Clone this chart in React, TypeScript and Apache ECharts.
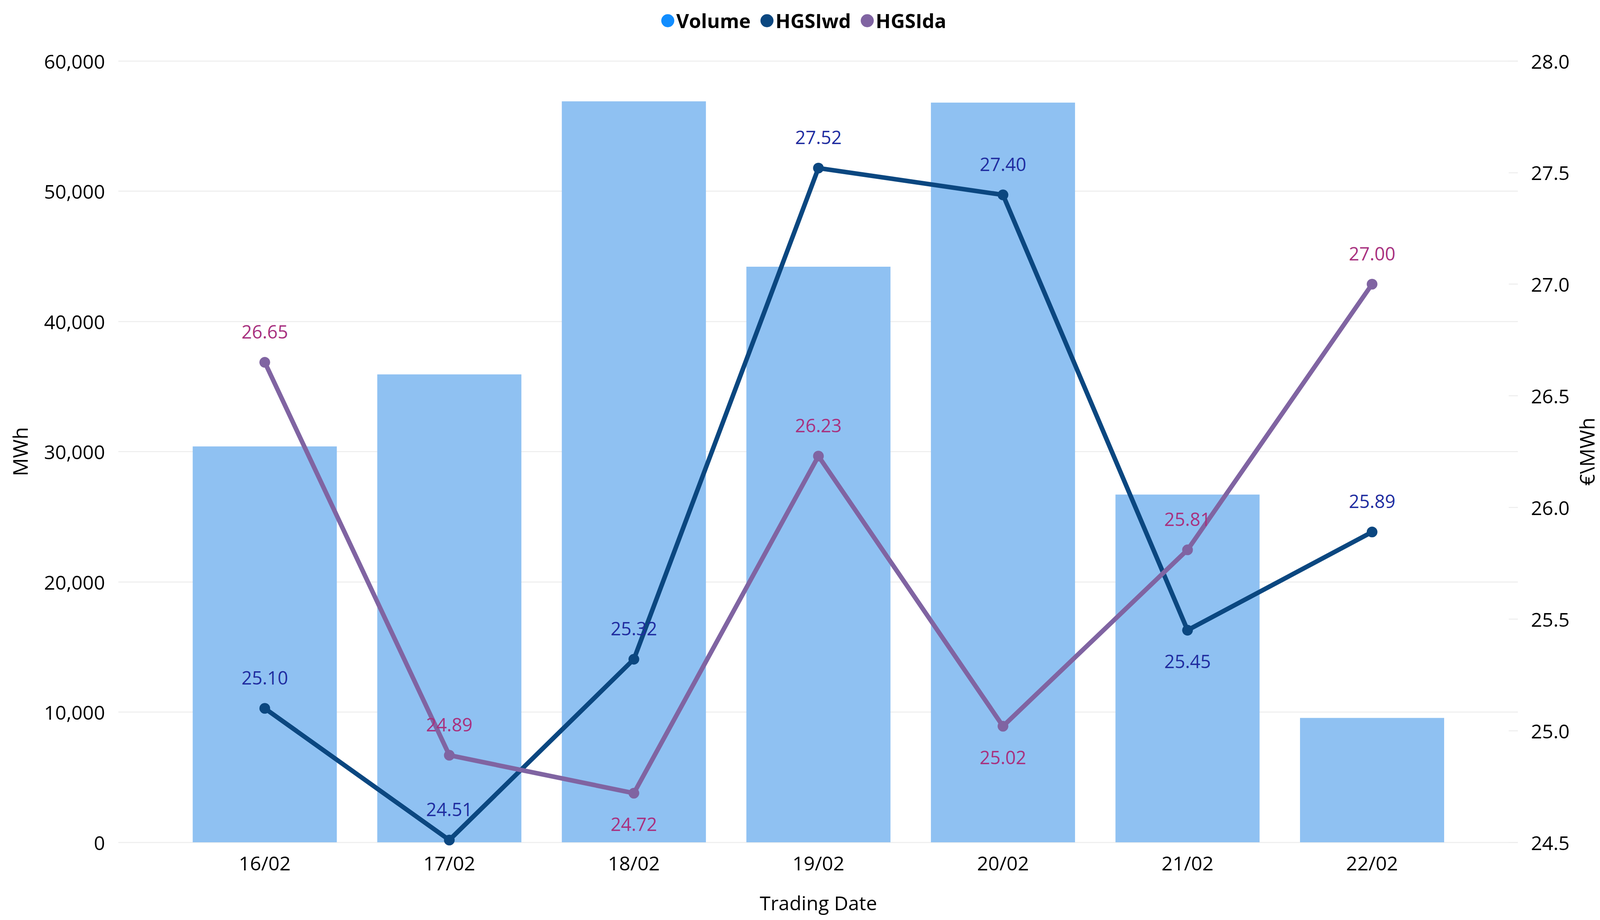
import React, { useEffect, useRef, useState } from 'react';
import * as echarts from 'echarts';

const categories = ['16/02', '17/02', '18/02', '19/02', '20/02', '21/02', '22/02'];
const volume = [30400, 35930, 56900, 44200, 56800, 26700, 9550];
const hgsiWd = [25.1, 24.51, 25.32, 27.52, 27.4, 25.45, 25.89];
const hgsiDa = [26.65, 24.89, 24.72, 26.23, 25.02, 25.81, 27.0];

const leftMin = 0;
const leftMax = 60000;
const leftInterval = 10000;
const rightMin = 24.5;
const rightMax = 28;
const rightInterval = 0.5;

const FONT = "'Segoe UI', 'Open Sans', sans-serif";
const GRID_COLOR = '#EDEDED';
const REF_W = 4907;
const REF_H = 2356;

export default function App() {
  const ref = useRef<HTMLDivElement>(null);
  const [size, setSize] = useState<{ w: number; h: number } | null>(null);

  useEffect(() => {
    document.body.style.margin = '0';
    document.body.style.overflow = 'hidden';
    setSize({ w: window.innerWidth, h: window.innerHeight });
  }, []);

  useEffect(() => {
    if (!size || !ref.current) return;
    const sx = size.w / REF_W;
    const sy = size.h / REF_H;
    const px = (n: number) => n * sx;
    const py = (n: number) => n * sy;
    const f = (n: number) => n * Math.min(sx, sy * 1.1);
    const chart = echarts.init(ref.current, null, { renderer: 'svg' });

    const wdBelow = [5];
    const daBelow = [2, 4];

    const option: any = {
      animation: false,
      backgroundColor: '#FFFFFF',
      textStyle: { fontFamily: FONT },
      legend: {
        top: py(48) - f(30),
        left: px(2022),
        icon: 'circle',
        itemWidth: f(40),
        itemHeight: f(40),
        itemGap: px(30),
        textStyle: { fontSize: f(60), fontWeight: 'bold', color: '#000000', fontFamily: FONT },
        data: [
          { name: 'Volume', itemStyle: { color: '#118DFF' } },
          { name: 'HGSIwd' },
          { name: 'HGSIda' },
        ],
      },
      grid: [
        { left: px(363), right: px(239), top: py(156), bottom: py(199) },
        { left: px(529), right: px(416), top: py(156), bottom: py(199) },
      ],
      xAxis: [
        { gridIndex: 0, type: 'value', show: false, min: 0, max: 1 },
        {
          gridIndex: 1,
          type: 'category',
          data: categories,
          boundaryGap: true,
          axisLine: { show: false },
          axisTick: { show: false },
          axisLabel: {
            fontSize: f(60),
            color: '#000000',
            margin: py(54) - f(32),
            fontFamily: FONT,
          },
          name: 'Trading Date',
          nameLocation: 'middle',
          nameGap: py(156) - f(32),
          nameTextStyle: { fontSize: f(60), color: '#000000', fontFamily: FONT },
        },
      ],
      yAxis: [
        {
          gridIndex: 0,
          type: 'value',
          position: 'left',
          min: leftMin,
          max: leftMax,
          interval: leftInterval,
          name: 'MWh',
          nameLocation: 'middle',
          nameGap: px(303) - f(32),
          nameTextStyle: { fontSize: f(62), color: '#000000', fontFamily: FONT },
          axisLine: { show: false },
          axisTick: { show: false },
          axisLabel: {
            fontSize: f(60),
            color: '#000000',
            margin: px(41),
            fontFamily: FONT,
            formatter: (v: number) => v.toLocaleString('en-US'),
          },
          splitLine: { show: true, lineStyle: { color: GRID_COLOR, width: f(3) } },
        },
        {
          gridIndex: 0,
          type: 'value',
          position: 'right',
          min: rightMin,
          max: rightMax,
          interval: rightInterval,
          name: '€\\MWh',
          nameLocation: 'middle',
          nameGap: px(212) - f(32),
          nameTextStyle: { fontSize: f(62), color: '#000000', fontFamily: FONT },
          axisLine: { show: false },
          axisTick: {
            show: true,
            inside: true,
            length: px(28),
            lineStyle: { color: GRID_COLOR, width: f(3) },
          },
          axisLabel: {
            fontSize: f(60),
            color: '#000000',
            margin: px(40),
            fontFamily: FONT,
            formatter: (v: number) => v.toFixed(1),
          },
          splitLine: { show: false },
        },
        { gridIndex: 1, type: 'value', show: false, min: leftMin, max: leftMax },
        { gridIndex: 1, type: 'value', show: false, min: rightMin, max: rightMax },
      ],
      series: [
        {
          name: 'Volume',
          type: 'bar',
          xAxisIndex: 1,
          yAxisIndex: 2,
          data: volume,
          barWidth: px(442),
          itemStyle: { color: '#8FC1F2' },
        },
        {
          name: 'HGSIwd',
          type: 'line',
          xAxisIndex: 1,
          yAxisIndex: 3,
          symbol: 'circle',
          symbolSize: f(33),
          lineStyle: { width: f(14), color: '#0B4780' },
          itemStyle: { color: '#0B4780' },
          data: hgsiWd.map((v, i) => ({
            value: v,
            label: { position: wdBelow.includes(i) ? 'bottom' : 'top' },
          })),
          label: {
            show: true,
            fontSize: f(56),
            color: '#1F2DA0',
            distance: py(79) - f(16.5) - f(28),
            fontFamily: FONT,
            formatter: (q: any) => Number(q.value).toFixed(2),
          },
        },
        {
          name: 'HGSIda',
          type: 'line',
          xAxisIndex: 1,
          yAxisIndex: 3,
          symbol: 'circle',
          symbolSize: f(33),
          lineStyle: { width: f(14), color: '#8064A2' },
          itemStyle: { color: '#8064A2' },
          data: hgsiDa.map((v, i) => ({
            value: v,
            label: { position: daBelow.includes(i) ? 'bottom' : 'top' },
          })),
          label: {
            show: true,
            fontSize: f(56),
            color: '#A8317F',
            distance: py(79) - f(16.5) - f(28),
            fontFamily: FONT,
            formatter: (q: any) => Number(q.value).toFixed(2),
          },
        },
      ],
    };

    chart.setOption(option);
    return () => chart.dispose();
  }, [size]);

  return (
    <div
      ref={ref}
      style={{ width: size ? size.w : REF_W, height: size ? size.h : REF_H }}
    />
  );
}
